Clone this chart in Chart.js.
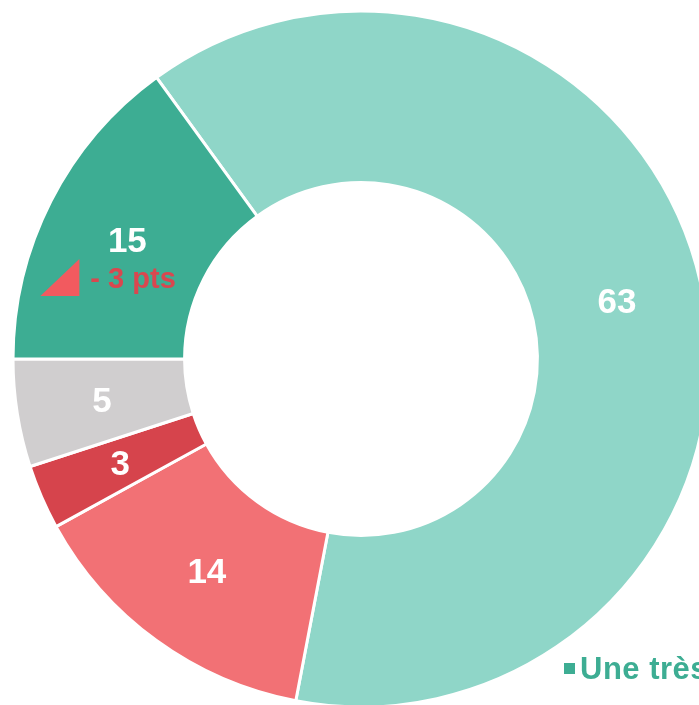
<!DOCTYPE html>
<html>
<head>
<meta charset="utf-8">
<script src="https://cdn.jsdelivr.net/npm/chart.js@4"></script>
<style>
  html, body { margin: 0; padding: 0; background: #fff; overflow: hidden; width: 699px; height: 705px; }
  #wrap { position: absolute; left: 0; top: -2px; width: 722px; height: 722px; }
</style>
</head>
<body>
<div id="wrap"><canvas id="doughnut-chart"></canvas></div>
<script>
const categories = ["Une assez bonne image", "Une assez mauvaise image", "Une très mauvaise image", "Ne se prononce pas", "Une très bonne image"];
const values = [63, 14, 3, 5, 15];
const colors = ["#8fd6c8", "#f27175", "#d6444c", "#d0cecf", "#3dad93"];
const evolution = [null, null, null, null, "- 3 pts"];
const legendIndex = 4;

const labelPlugin = {
  id: 'sliceLabels',
  afterDatasetsDraw(chart) {
    const ctx = chart.ctx;
    const meta = chart.getDatasetMeta(0);
    ctx.save();
    meta.data.forEach((arc, i) => {
      const p = arc.tooltipPosition();
      ctx.fillStyle = '#ffffff';
      ctx.font = 'bold 35px "Liberation Sans", Arial, sans-serif';
      ctx.textAlign = 'center';
      ctx.textBaseline = 'middle';
      ctx.fillText(values[i], p.x, p.y + 2);
      if (evolution[i]) {
        // small triangle + evolution text
        ctx.fillStyle = '#f25a5f';
        ctx.beginPath();
        ctx.moveTo(p.x - 87, p.y + 56);
        ctx.lineTo(p.x - 48, p.y + 56);
        ctx.lineTo(p.x - 48, p.y + 19);
        ctx.closePath();
        ctx.fill();
        ctx.fillStyle = '#d9474f';
        ctx.font = 'bold 29px "Liberation Sans", Arial, sans-serif';
        ctx.textAlign = 'left';
        ctx.fillText(evolution[i], p.x - 37, p.y + 40);
      }
    });
    // legend (first item only visible)
    const x0 = 564, y0 = 665;
    ctx.fillStyle = colors[legendIndex];
    ctx.fillRect(x0, y0, 11, 11);
    ctx.font = 'bold 31px "Liberation Sans", Arial, sans-serif';
    ctx.letterSpacing = '0.5px';
    ctx.textAlign = 'left';
    ctx.textBaseline = 'alphabetic';
    ctx.fillText(categories[legendIndex], x0 + 16, 681);
    ctx.restore();
  }
};

new Chart(document.getElementById("doughnut-chart"), {
  type: 'doughnut',
  data: {
    labels: categories,
    datasets: [{
      data: values,
      backgroundColor: colors,
      borderColor: '#ffffff',
      borderWidth: 3
    }]
  },
  options: {
    responsive: true,
    maintainAspectRatio: false,
    animation: false,
    rotation: -36,
    cutout: '50.7%',
    layout: { padding: 11.5 },
    plugins: {
      legend: { display: false },
      tooltip: { enabled: false }
    }
  },
  plugins: [labelPlugin]
});
</script>
</body>
</html>
